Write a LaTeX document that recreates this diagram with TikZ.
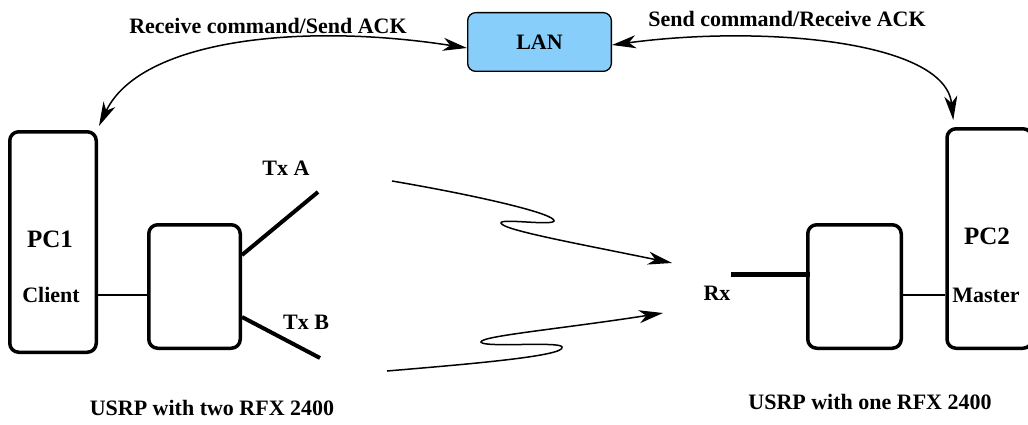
\documentclass[tikz,border=0pt]{standalone}
\usepackage{fontspec}
\setmainfont{Liberation Serif}[BoldFont={Liberation Serif Bold}]
\newfontfamily\labelfont{Liberation Serif Bold}
\usetikzlibrary{arrows.meta}
\definecolor{lanblue}{RGB}{135,206,250}
\begin{document}
\begin{tikzpicture}[x=1pt,y=1pt,
  box/.style={draw, line width=3.5pt, rounded corners=9pt, inner sep=0pt},
  lanbox/.style={draw, line width=1.3pt, rounded corners=8pt, fill=lanblue, inner sep=0pt},
  lbl/.style={font=\labelfont\fontsize{22}{24}\selectfont, inner sep=0pt},
  big/.style={font=\labelfont\fontsize{25}{27}\selectfont, inner sep=0pt},
  tip/.tip={Stealth[length=24pt,width=13pt,inset=7pt]},
  curve/.style={line width=1.5pt},
  wire/.style={line width=1.3pt},
  ant/.style={line width=4pt},
  rxant/.style={line width=5pt}]
\clip (0,0) rectangle (1028,424);
\useasboundingbox (0,0) rectangle (1028,424);
% boxes
\node[box, minimum width=86.5pt, minimum height=220.5pt] (pc1) at (53,182) {};
\node[box, minimum width=91.5pt, minimum height=123.5pt] (usrpL) at (194.5,137.5) {};
\node[box, minimum width=93.5pt, minimum height=123.5pt] (usrpR) at (854.5,137.5) {};
\node[box, minimum width=85pt, minimum height=219.5pt] (pc2) at (989.5,185.5) {};
\node[lanbox, minimum width=143.7pt, minimum height=58.7pt] (lan) at (539.5,382) {};
% texts
\node[lbl] (lantext) at (lan) {LAN};
\node[big] (pc1text) at (50,185) {PC1};
\node[lbl] (client) at (51,129) {Client};
\node[big] (pc2text) at (987,188) {PC2};
\node[lbl] (master) at (986,129) {Master};
\node[lbl] (txA) at (286,256) {Tx A};
\node[lbl] (txB) at (306,102) {Tx B};
\node[lbl] (rx) at (717,131) {Rx};
\node[lbl] (recv) at (268,398) {Receive command/Send ACK};
\node[lbl] (send) at (787,405) {Send command/Receive ACK};
\node[lbl] (capL) at (212,16) {USRP with two RFX 2400};
\node[lbl] (capR) at (870,22) {USRP with one RFX 2400};
% wires
\draw[wire] (pc1.east |- client) -- (usrpL.west |- client);
\draw[wire] (usrpR.east |- master) -- (pc2.west |- master);
% antennas
\coordinate (txAend) at (318,232);
\coordinate (txBend) at (320,66);
\coordinate (rxstart) at (731,150);
\draw[ant] (usrpL.east |- 0,169) -- (txAend);
\draw[ant] (usrpL.east |- 0,107) -- (txBend);
\draw[rxant] (rxstart) -- ([xshift=4pt]usrpR.west |- rxstart);
% LAN curves
\draw[curve, tip-tip] ([shift={(1pt,4pt)}]pc1.north east) .. controls (140,384) and (300,402) .. ([yshift=-6pt]lan.west);
\draw[curve, tip-tip] ([yshift=-3pt]lan.east) .. controls (760,399) and (945,384) .. ([shift={(8pt,7pt)}]pc2.north west);
% wavy radio arrows
\coordinate (wA0) at (392,243);
\coordinate (wA1) at (672,161);
\coordinate (wB0) at (387,53);
\coordinate (wB1) at (663,111);
\draw[curve, -tip] (wA0) .. controls (480,228) and (556,210) .. (554,203)
   .. controls (552,198) and (500,206) .. (501,201)
   .. controls (502,194) and (580,180) .. (wA1);
\draw[curve, -tip] (wB0) .. controls (470,60) and (566,68) .. (562,77)
   .. controls (561,83) and (482,76) .. (481,82)
   .. controls (481,88) and (560,95) .. (wB1);
\end{tikzpicture}
\end{document}
